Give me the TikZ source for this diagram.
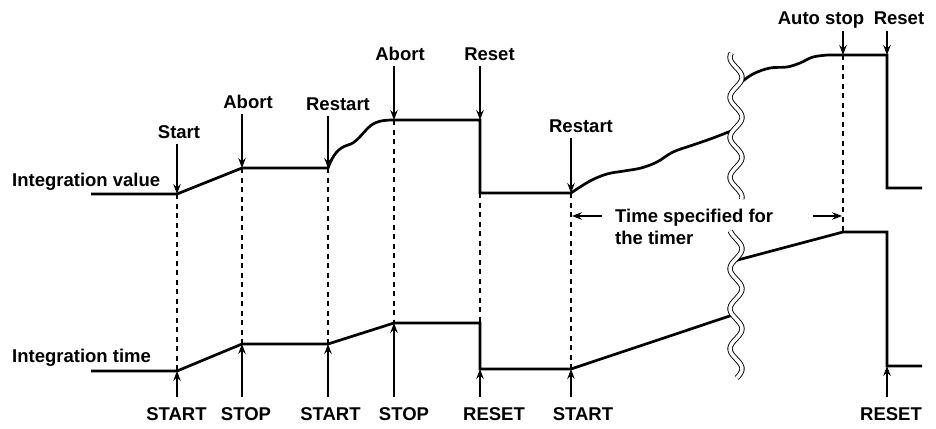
\documentclass[tikz,border=0pt]{standalone}
\usepackage{fontspec}
\setmainfont{Liberation Sans}
\usetikzlibrary{arrows.meta}
\begin{document}
\begin{tikzpicture}[x=1pt,y=-1pt,
  declare function={wu(\t)=736+6*sin((\t-53)*9-129); wl(\t)=736+6*sin((\t-231)*9-70);},
  curve/.style={line width=2.7pt},
  arr/.style={line width=1.1pt, -{Stealth[length=10pt,width=7.5pt,inset=3.5pt]}},
  dsh/.style={line width=1.1pt, dash pattern=on 5pt off 4.5pt},
  brk/.style={double=white, double distance=3.5pt, line width=0.9pt},
  lab/.style={font=\fontsize{18.5}{22}\selectfont\bfseries, inner sep=0pt, text depth=0pt},
  toplab/.style={lab, anchor=base, outer ysep=6pt},
  botlab/.style={lab, anchor=north, outer ysep=11pt},
  ]
\useasboundingbox (0,0) rectangle (936,428);

% upper curve points
\coordinate (v0) at (91,194);
\coordinate (vS) at (177,194);
\coordinate (vA1) at (242,168);
\coordinate (vR1) at (328,168);
\coordinate (vA2) at (394,120);
\coordinate (vRs) at (480,120);
\coordinate (vRsL) at (480,193);
\coordinate (vR2) at (571,193);
\coordinate (bkU1) at ({wu(130)},130);
\coordinate (bkU2) at ({wu(84)},84);
\coordinate (vAs) at (843,55);
\coordinate (vRs2) at (887,55);
\coordinate (vRs2L) at (887,188);
\coordinate (vEnd) at (922,188);
% lower curve points
\coordinate (t0) at (91,371);
\coordinate (tS) at (177,371);
\coordinate (tP1) at (242,344);
\coordinate (tS2) at (328,344);
\coordinate (tP2) at (394,323);
\coordinate (tRs) at (480,323);
\coordinate (tRsL) at (480,369);
\coordinate (tS3) at (571,369);
\coordinate (bkL1) at ({wl(315)},315);
\coordinate (bkL2) at ({wl(261)},261);
\coordinate (tAs) at (843,232);
\coordinate (tRs2) at (887,232);
\coordinate (tRs2L) at (887,366);
\coordinate (tEnd) at (922,366);

% dashed guides
\foreach \a/\b in {vS/tS, vA1/tP1, vR1/tS2, vA2/tP2, vRsL/tRsL, vR2/tS3, vAs/tAs}
  \draw[dsh] (\a) -- (\b);

% upper curve
\draw[curve] (v0) -- (vS) -- (vA1) -- (vR1)
  .. controls (333,155) and (338,148) .. (348,145)
  .. controls (356,143) and (361,135) .. (368,128)
  .. controls (375,121) and (383,120) .. (vA2)
  -- (vRs) -- (vRsL) -- (vR2)
  -- plot[smooth, tension=0.6] coordinates {(vR2) (590,181) (607,174) (624,171) (641,168) (657,162) (673,152) (693,145) (713,138) (bkU1)};
\draw[curve] plot[smooth, tension=0.6] coordinates {(bkU2) (753,74) (770,68) (787,67) (800,63) (813,57) (828,55)}
  -- (vAs) -- (vRs2) -- (vRs2L) -- (vEnd);

% lower curve
\draw[curve] (t0) -- (tS) -- (tP1) -- (tS2) -- (tP2) -- (tRs) -- (tRsL) -- (tS3) -- (bkL1);
\draw[curve] (bkL2) -- (tAs) -- (tRs2) -- (tRs2L) -- (tEnd);

% breaks
\draw[brk] plot[smooth, domain=53:199, samples=70, variable=\t] ({wu(\t)},\t);
\draw[brk] plot[smooth, domain=231:378, samples=70, variable=\t] ({wl(\t)},\t);

% left labels
\node[lab, anchor=base west] (iv) at (12,186) {Integration value};
\node[lab, anchor=base west] (it) at (12,362) {Integration time};

% top labels
\node[toplab] (lS) at (179,138) {Start};
\node[toplab] (lA1) at (248,108) {Abort};
\node[toplab] (lR1) at (338,110) {Restart};
\node[toplab] (lA2) at (400,60) {Abort};
\node[toplab] (lRs) at (489.5,60) {Reset};
\node[toplab] (lR2) at (581,132) {Restart};
\node[toplab] (lAs) at (821,25) {Auto stop};
\node[toplab] (lRs2) at (899,25) {Reset};
\foreach \n/\p in {lS/vS, lA1/vA1, lR1/vR1, lA2/vA2, lRs/vRs, lR2/vR2, lAs/vAs, lRs2/vRs2}
  \draw[arr] (\n.south -| \p) -- (\p);

% bottom labels
\node[botlab] (bS) at (176.5,397) {START};
\node[botlab] (bP1) at (246,397) {STOP};
\node[botlab] (bS2) at (330.5,397) {START};
\node[botlab] (bP2) at (404,397) {STOP};
\node[botlab] (bRs) at (494,397) {RESET};
\node[botlab] (bS3) at (583,397) {START};
\node[botlab] (bRs2) at (891,397) {RESET};
\foreach \n/\p in {bS/tS, bP1/tP1, bS2/tS2, bP2/tP2, bRs/tRsL, bS3/tS3, bRs2/tRs2L}
  \draw[arr] (\n.north -| \p) -- (\p);

% timer annotation
\node[lab, anchor=north west, align=left] (tmr) at (615,209) {Time specified for\\the timer};
\coordinate (tmLs) at (602,216);
\coordinate (tmLe) at (572,216);
\coordinate (tmRs) at (813,216);
\coordinate (tmRe) at (842,216);
\draw[arr] (tmLs) -- (tmLe);
\draw[arr] (tmRs) -- (tmRe);
\end{tikzpicture}
\end{document}
